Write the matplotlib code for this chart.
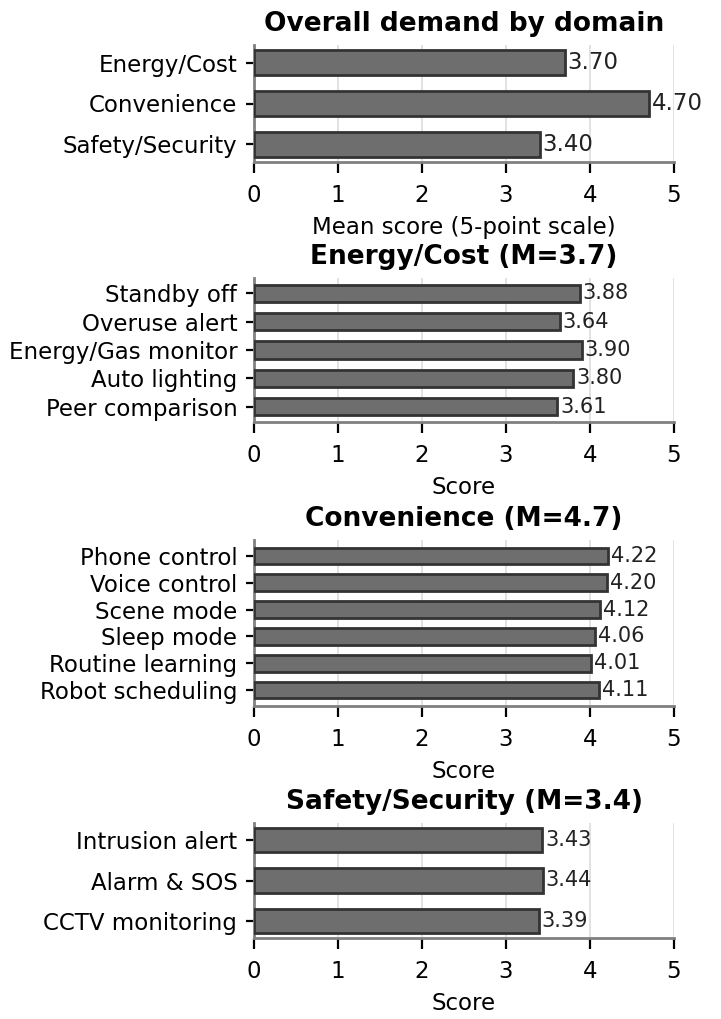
import numpy as np
import matplotlib
matplotlib.use("Agg")
import matplotlib.pyplot as plt

# ---------------- data ----------------
domains = ["Energy/Cost", "Convenience", "Safety/Security"]
domain_means = [3.70, 4.70, 3.40]

energy_items = ["Standby off", "Overuse alert", "Energy/Gas monitor", "Auto lighting", "Peer comparison"]
energy_scores = [3.88, 3.64, 3.90, 3.80, 3.61]

conv_items = ["Phone control", "Voice control", "Scene mode", "Sleep mode", "Routine learning", "Robot scheduling"]
conv_scores = [4.22, 4.20, 4.12, 4.06, 4.01, 4.11]

safety_items = ["Intrusion alert", "Alarm & SOS", "CCTV monitoring"]
safety_scores = [3.43, 3.44, 3.39]

titles = ["Overall demand by domain", "Energy/Cost (M=3.7)", "Convenience (M=4.7)", "Safety/Security (M=3.4)"]
xlabels = ["Mean score (5-point scale)", "Score", "Score", "Score"]

# ---------------- style ----------------
plt.rcParams['font.family'] = ['DejaVu Sans']
BAR = '#6e6e6e'
EDGE = '#333333'
SPINE = '#808080'
GRID = '#dddddd'

fig = plt.figure(figsize=(7.21, 10.19), dpi=100)

W, H = 721, 1019
def rect(top, bottom, left=254, right=674):
    return [left / W, 1 - bottom / H, (right - left) / W, (bottom - top) / H]

rects = [rect(45, 162), rect(278, 422), rect(540, 706), rect(823, 938)]
panels = [(domains, domain_means, 16.5),
          (energy_items, energy_scores, 15),
          (conv_items, conv_scores, 15),
          (safety_items, safety_scores, 15)]

for r, (cats, vals, vsize), title, xl in zip(rects, panels, titles, xlabels):
    ax = fig.add_axes(r)
    y = np.arange(len(cats))
    bars = ax.barh(y, vals, height=0.6, color=BAR, edgecolor=EDGE, linewidth=2, zorder=3)
    ax.set_yticks(y)
    ax.set_yticklabels(cats)
    ax.invert_yaxis()
    ax.set_xlim(0, 5)
    ax.set_xticks(range(6))
    ax.grid(axis='x', color=GRID, linewidth=1.2, zorder=0)
    ax.set_axisbelow(True)
    for s in ['top', 'right']:
        ax.spines[s].set_visible(False)
    for s in ['left', 'bottom']:
        ax.spines[s].set_color(SPINE)
        ax.spines[s].set_linewidth(2)
    ax.tick_params(axis='both', labelsize=16.5, colors='black', width=1.6)
    ax.tick_params(axis='x', length=8, pad=8)
    ax.tick_params(axis='y', length=6, pad=6)
    ax.bar_label(bars, labels=[f"{v:.2f}" for v in vals], padding=2,
                 fontsize=vsize, color='#222222')
    ax.set_title(title, fontsize=19, fontweight='bold', pad=10)
    ax.set_xlabel(xl, fontsize=16.5, labelpad=6)

fig.savefig("out.png", dpi=100)
